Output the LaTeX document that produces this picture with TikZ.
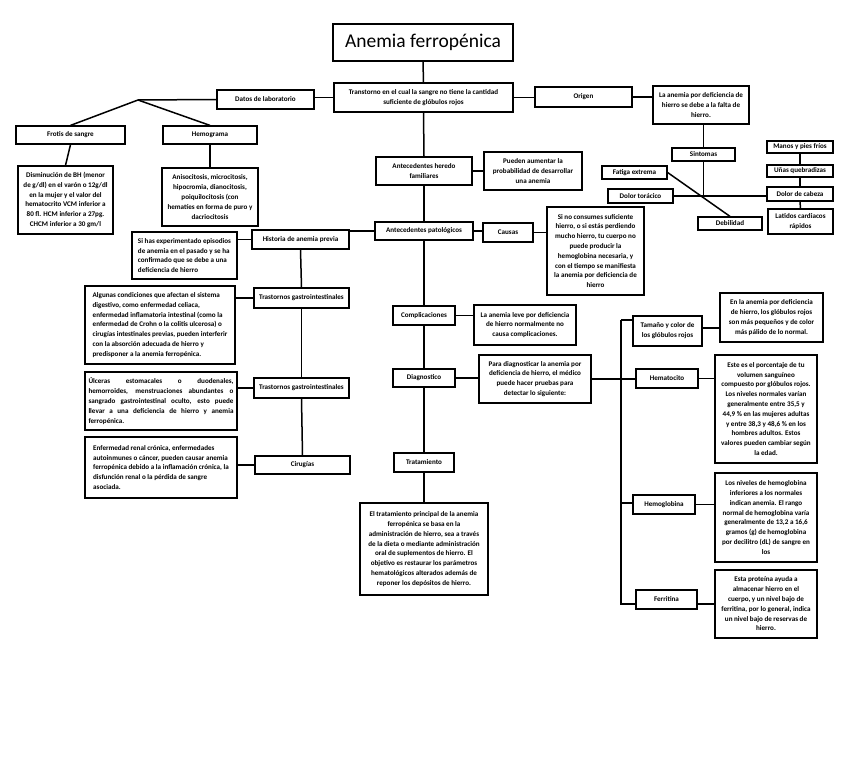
\documentclass[tikz,border=0pt]{standalone}
\usepackage{fontspec}
\setmainfont{Carlito}
\begin{document}
\begin{tikzpicture}[x=1pt,y=-1pt,
  box/.style={draw=black,line width=1.2pt,inner sep=1.5pt,align=center,
    font=\bfseries\fontsize{7.1}{9.8}\selectfont},
  conn/.style={draw=black,line width=1.5pt}]
\useasboundingbox (0,0) rectangle (848,759);
\fill[white] (0,0) rectangle (848,759);

% title and main
\node[box,line width=2pt,font=\fontsize{19.5}{22}\selectfont,minimum width=180pt,minimum height=37pt] (title) at (423,42.5) {Anemia ferropénica};
\node[box,minimum width=179pt,minimum height=29pt] (trans) at (423.5,97.5) {Transtorno en el cual la sangre no tiene la cantidad\\suficiente de glóbulos rojos};

% left top: laboratorio
\node[box,minimum width=97pt,minimum height=19pt] (datos) at (265.5,99.5) {Datos de laboratorio};
\coordinate (apex) at (138,100);
\node[box,minimum width=109pt,minimum height=18pt] (frotis) at (70.5,135) {Frotis de sangre};
\node[box,minimum width=94pt,minimum height=18pt] (hemo) at (210,135) {Hemograma};
\node[box,minimum width=95pt,minimum height=68pt] (frotistxt) at (65.5,200) {Disminución de BH (menor\\de g/dl) en el varón o 12g/dl\\en la mujer y el valor del\\hematocrito VCM inferior a\\80 fl. HCM inferior a 27pg.\\CHCM inferior a 30 gm/l};
\node[box,minimum width=96pt,minimum height=58pt] (hemotxt) at (210,197) {Anisocitosis, microcitosis,\\hipocromia, dianocitosis,\\poiquilocitosis (con\\hematíes en forma de puro y\\dacriocitosis};

% right top: origen and sintomas
\node[box,minimum width=97pt,minimum height=20pt] (origen) at (583.5,97) {Origen};
\node[box,minimum width=96pt,minimum height=38pt] (lanemia) at (701,105) {La anemia por deficiencia de\\hierro se debe a la falta de\\hierro.};
\node[box,minimum width=63pt,minimum height=13pt] (sint) at (703.5,154.5) {Sintomas};
\coordinate (sc) at (703.5,195);
\node[box,minimum width=65pt,minimum height=13pt] (fatiga) at (634.5,172.5) {Fatiga extrema};
\node[box,minimum width=65pt,minimum height=14pt] (torac) at (640.5,196) {Dolor torácico};
\node[box,minimum width=64pt,minimum height=13pt] (debil) at (730,223.5) {Debilidad};
\node[box,minimum width=66pt,minimum height=12pt] (manos) at (800,147) {Manos y pies fríos};
\node[box,minimum width=66pt,minimum height=12pt] (unas) at (800,171) {Uñas quebradizas};
\node[box,minimum width=66pt,minimum height=14pt] (cabeza) at (800,194) {Dolor de cabeza};
\node[box,minimum width=65pt,minimum height=25pt] (latidos) at (800.5,221.5) {Latidos cardiacos\\rápidos};

% centre column
\node[box,minimum width=96pt,minimum height=28pt] (hered) at (424,171) {Antecedentes heredo\\familiares};
\node[box,minimum width=98pt,minimum height=38pt] (pueden) at (533,171) {Pueden aumentar la\\probabilidad de desarrollar\\una anemia};
\node[box,minimum width=98pt,minimum height=18pt] (patol) at (424,231) {Antecedentes patológicos};
\node[box,minimum width=50pt,minimum height=19pt] (causas) at (508,232.5) {Causas};
\node[box,minimum width=97pt,minimum height=88pt] (sino) at (595.5,251) {Si no consumes suficiente\\hierro, o si estás perdiendo\\mucho hierro, tu cuerpo no\\puede producir la\\hemoglobina necesaria, y\\con el tiempo se manifiesta\\la anemia por deficiencia de\\hierro};

% left column
\node[box,minimum width=97pt,minimum height=19pt] (hist) at (300.5,239.5) {Historia de anemia previa};
\node[box,align=left,minimum width=105pt,minimum height=47pt] (sihas) at (184.5,255.5) {Si has experimentado episodios\\de anemia en el pasado y se ha\\confirmado que se debe a una\\deficiencia de hierro};
\node[box,minimum width=95pt,minimum height=20pt] (gastroA) at (301.5,298) {Trastornos gastrointestinales};
\node[box,align=left,minimum width=150pt,minimum height=78pt] (algunas) at (160,325) {Algunas condiciones que afectan el sistema\\digestivo, como enfermedad celiaca,\\enfermedad inflamatoria intestinal (como la\\enfermedad de Crohn o la colitis ulcerosa) o\\cirugías intestinales previas, pueden interferir\\con la absorción adecuada de hierro y\\predisponer a la anemia ferropénica.};
\node[box,minimum width=95pt,minimum height=20pt] (gastroB) at (301.5,388) {Trastornos gastrointestinales};
\node[box,align=left,minimum width=152pt,minimum height=58pt] (ulceras) at (161,401) {\makebox[145pt][s]{Úlceras estomacales o duodenales,}\\\makebox[145pt][s]{hemorroides, menstruaciones abundantes o}\\\makebox[145pt][s]{sangrado gastrointestinal oculto, esto puede}\\\makebox[145pt][s]{llevar a una deficiencia de hierro y anemia}\\\makebox[145pt][l]{ferropénica.}};
\node[box,minimum width=95pt,minimum height=18pt] (cirug) at (302.5,465) {Cirugías};
\node[box,align=left,minimum width=152pt,minimum height=61pt] (enferm) at (161,467.5) {Enfermedad renal crónica, enfermedades\\autoinmunes o cáncer, pueden causar anemia\\ferropénica debido a la inflamación crónica, la\\disfunción renal o la pérdida de sangre\\asociada.};

% centre lower
\node[box,minimum width=62pt,minimum height=19pt] (compl) at (424,315.5) {Complicaciones};
\node[box,minimum width=102pt,minimum height=40pt] (leve) at (525,325) {La anemia leve por deficiencia\\de hierro normalmente no\\causa complicaciones.};
\node[box,minimum width=62pt,minimum height=18pt] (diag) at (424,378) {Diagnostico};
\node[box,minimum width=112pt,minimum height=48pt] (para) at (535,379) {Para diagnosticar la anemia por\\deficiencia de hierro, el médico\\puede hacer pruebas para\\detectar lo siguiente:};
\node[box,minimum width=60pt,minimum height=19pt] (trat) at (424,462.5) {Tratamiento};
\node[box,minimum width=128pt,minimum height=92pt] (trattxt) at (424,549) {El tratamiento principal de la anemia\\ferropénica se basa en la\\administración de hierro, sea a través\\de la dieta o mediante administración\\oral de suplementos de hierro. El\\objetivo es restaurar los parámetros\\hematológicos alterados además de\\reponer los depósitos de hierro.};

% diagnostic branch
\coordinate (vtop) at (621,320);
\coordinate (vhct) at (621,379);
\coordinate (vhgb) at (621,503);
\coordinate (vfer) at (621,604);
\coordinate (vbot) at (621,605);
\node[box,minimum width=69pt,minimum height=30pt] (tam) at (667.5,331) {Tamaño y color de\\los glóbulos rojos};
\node[box,minimum width=103pt,minimum height=49pt] (enla) at (771.5,317.5) {En la anemia por deficiencia\\de hierro, los glóbulos rojos\\son más pequeños y de color\\más pálido de lo normal.};
\node[box,minimum width=62pt,minimum height=19pt] (hemat) at (667,378.5) {Hematocito};
\node[box,minimum width=102pt,minimum height=108pt] (este) at (766,409) {Este es el porcentaje de tu\\volumen sanguíneo\\compuesto por glóbulos rojos.\\Los niveles normales varían\\generalmente entre 35,5 y\\44,9 \% en las mujeres adultas\\y entre 38,3 y 48,6 \% en los\\hombres adultos. Estos\\valores pueden cambiar según\\la edad.};
\node[box,minimum width=62pt,minimum height=19pt] (hemog) at (664,504.5) {Hemoglobina};
\node[box,minimum width=102pt,minimum height=89pt] (losniv) at (766,517.5) {Los niveles de hemoglobina\\inferiores a los normales\\indican anemia. El rango\\normal de hemoglobina varía\\generalmente de 13,2 a 16,6\\gramos (g) de hemoglobina\\por decilitro (dL) de sangre en\\los};
\node[box,minimum width=61pt,minimum height=19pt] (ferr) at (666.5,599.5) {Ferritina};
\node[box,minimum width=102pt,minimum height=68pt] (esta) at (766,604) {Esta proteína ayuda a\\almacenar hierro en el\\cuerpo, y un nivel bajo de\\ferritina, por lo general, indica\\un nivel bajo de reservas de\\hierro.};

% connectors
\draw[conn] (title.south) -- (trans.north);
\draw[conn] (trans.west) -- (trans.west -| datos.east);
\draw[conn] (datos.west) -- (apex);
\draw[conn] (apex) -- (frotis.north);
\draw[conn] (apex) -- (hemo.north);
\draw[conn] (frotis.south) -- (frotistxt.north);
\draw[conn] (hemo.south) -- (hemotxt.north);
\draw[conn] (trans.east) -- (trans.east -| origen.west);
\draw[conn] (origen.east) -- (origen.east -| lanemia.west);
\draw[conn] (sint.north |- lanemia.south) -- (sint.north);
\draw[conn] (sint.south) -- (sc);
\draw[conn] (torac.east) -- (torac.east -| cabeza.west);
\draw[conn] (fatiga.east) -- (debil.north);
\draw[conn] (manos.south) -- (unas.north);
\draw[conn] (unas.south) -- (cabeza.north);
\draw[conn] (cabeza.south) -- (latidos.north);
\draw[conn] (trans.south) -- (hered.north);
\draw[conn] (hered.east) -- (hered.east -| pueden.west);
\draw[conn] (hered.south) -- (patol.north);
\draw[conn] (patol.east) -- (patol.east -| causas.west);
\draw[conn] (causas.east) -- (causas.east -| sino.west);
\draw[conn] (patol.west) -- (patol.west -| hist.east);
\draw[conn] (hist.west) -- (hist.west -| sihas.east);
\draw[conn] (hist.south) -- (gastroA.north);
\draw[conn] (gastroA.west) -- (gastroA.west -| algunas.east);
\draw[conn] (gastroA.south) -- (gastroB.north);
\draw[conn] (gastroB.west) -- (gastroB.west -| ulceras.east);
\draw[conn] (gastroB.south) -- (cirug.north);
\draw[conn] (cirug.west) -- (cirug.west -| enferm.east);
\draw[conn] (patol.south) -- (compl.north);
\draw[conn] (compl.east) -- (compl.east -| leve.west);
\draw[conn] (compl.south) -- (diag.north);
\draw[conn] (diag.east) -- (diag.east -| para.west);
\draw[conn] (para.east) -- (para.east -| vtop);
\draw[conn] (vtop) -- (vbot);
\draw[conn] (vtop) -- (vtop -| tam.west);
\draw[conn] (vhct) -- (vhct -| hemat.west);
\draw[conn] (vhgb) -- (vhgb -| hemog.west);
\draw[conn] (vfer) -- (vfer -| ferr.west);
\draw[conn] (tam.east) ++(0,-3) coordinate (tamc) -- (tamc -| enla.west);
\draw[conn] (hemat.east) -- (hemat.east -| este.west);
\draw[conn] (hemog.east) -- (hemog.east -| losniv.west);
\draw[conn] (vfer -| ferr.east) -- (vfer -| esta.west);
\draw[conn] (diag.south) -- (trat.north);
\draw[conn] (trat.south) -- (trattxt.north);
\end{tikzpicture}
\end{document}
